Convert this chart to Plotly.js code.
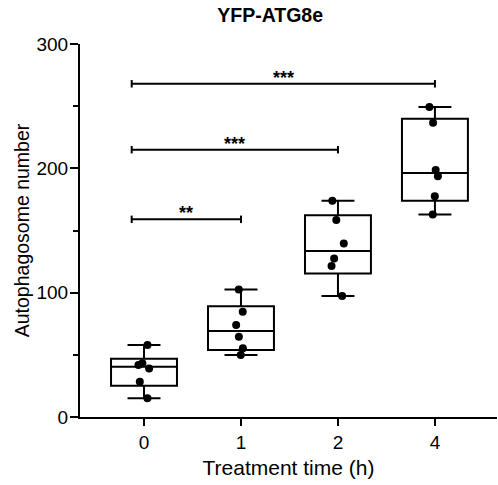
<!DOCTYPE html>
<html>
<head>
<meta charset="utf-8">
<script src="https://cdn.plot.ly/plotly-3.0.1.min.js"></script>
<style>html,body{margin:0;padding:0;background:#fff;}#chart{width:498px;height:485px;}</style>
</head>
<body>
<div id="chart"></div>
<script>
// Data
const categories = ['0', '1', '2', '4'];
const t0 = [57.9, 43.2, 41.8, 39.1, 28.4, 15.0];
const t1 = [102.6, 84.7, 74.0, 64.5, 55.2, 49.8];
const t2 = [173.9, 158.4, 139.6, 127.5, 121.4, 97.3];
const t4 = [249.4, 236.6, 198.6, 193.7, 177.6, 162.9];
const groups = [t0, t1, t2, t4];

// Significance annotations
const sigFrom = ['0', '0', '0'];
const sigTo = ['1', '2', '4'];
const sigLevel = [159, 215, 268];
const sigLabel = ['**', '***', '***'];

const FONT = '"Liberation Sans", Arial, Helvetica, sans-serif';

// Percentile (n+1)p method, as in Prism
function pct(arr, p) {
  const s = arr.slice().sort((a, b) => a - b);
  const n = s.length;
  let pos = (n + 1) * p;
  if (pos < 1) pos = 1;
  if (pos > n) pos = n;
  const lo = Math.floor(pos), hi = Math.ceil(pos);
  const f = pos - lo;
  return s[lo - 1] + f * (s[hi - 1] - s[lo - 1]);
}

const boxTrace = {
  type: 'box',
  x: categories,
  q1: groups.map(g => pct(g, 0.25)),
  median: groups.map(g => pct(g, 0.5)),
  q3: groups.map(g => pct(g, 0.75)),
  lowerfence: groups.map(g => Math.min(...g)),
  upperfence: groups.map(g => Math.max(...g)),
  width: 0.68,
  whiskerwidth: 0.5,
  boxpoints: false,
  line: {color: '#000', width: 2},
  fillcolor: 'rgba(255,255,255,0)',
  showlegend: false,
  hoverinfo: 'skip'
};

const ptsX = [], ptsY = [];
groups.forEach((g, i) => g.forEach(v => { ptsX.push(categories[i]); ptsY.push(v); }));

const pointTrace = {
  type: 'box',
  x: ptsX,
  y: ptsY,
  width: 0.68,
  boxpoints: 'all',
  jitter: 0.2,
  pointpos: 0,
  marker: {color: '#000', size: 8},
  line: {color: 'rgba(0,0,0,0)', width: 0},
  fillcolor: 'rgba(0,0,0,0)',
  showlegend: false
};

const catIdx = c => categories.indexOf(c);
const shapes = [];
const annotations = [];
sigLevel.forEach((lvl, i) => {
  const x0 = catIdx(sigFrom[i]) - 0.127;
  const x1 = catIdx(sigTo[i]);
  const ln = {color: '#000', width: 2};
  shapes.push({type: 'line', xref: 'x', yref: 'y', x0: x0, x1: x1, y0: lvl, y1: lvl, line: ln});
  shapes.push({type: 'line', xref: 'x', yref: 'y', x0: x0, x1: x0, y0: lvl - 3, y1: lvl + 3, line: ln});
  shapes.push({type: 'line', xref: 'x', yref: 'y', x0: x1, x1: x1, y0: lvl - 3, y1: lvl + 3, line: ln});
  annotations.push({
    xref: 'x', yref: 'y', x: (x0 + x1) / 2, y: lvl, text: '<b>' + sigLabel[i] + '</b>',
    showarrow: false, yanchor: 'bottom', yshift: -6,
    font: {family: FONT, size: 18, color: '#000'}
  });
});

const layout = {
  width: 498, height: 485,
  margin: {l: 80, r: 1, t: 44, b: 68},
  paper_bgcolor: '#fff', plot_bgcolor: '#fff',
  font: {family: FONT, color: '#000'},
  boxmode: 'overlay',
  showlegend: false,
  title: {
    text: '<b>YFP-ATG8e</b>',
    font: {family: FONT, size: 19.5, color: '#000'},
    xref: 'paper', x: 0.456, xanchor: 'center',
    yref: 'container', y: 0.968, yanchor: 'middle'
  },
  xaxis: {
    type: 'category',
    categoryorder: 'array', categoryarray: categories,
    range: [-0.66, 3.64],
    showline: true, linecolor: '#000', linewidth: 2,
    ticks: 'outside', ticklen: 7, tickwidth: 2, tickcolor: '#000',
    showgrid: false, zeroline: false,
    tickfont: {family: FONT, size: 19, color: '#000'},
    title: {text: 'Treatment time (h)', font: {family: FONT, size: 21, color: '#000'}, standoff: 9}
  },
  yaxis: {
    range: [0, 300],
    dtick: 100, tick0: 0,
    showline: true, linecolor: '#000', linewidth: 2,
    ticks: 'outside', ticklen: 8, tickwidth: 2, tickcolor: '#000',
    ticklabelstandoff: -2,
    minor: {dtick: 50, ticks: 'outside', ticklen: 5, tickwidth: 2, tickcolor: '#000', showgrid: false},
    showgrid: false, zeroline: false,
    tickfont: {family: FONT, size: 19, color: '#000'},
    title: {text: 'Autophagosome number', font: {family: FONT, size: 19.5, color: '#000'}, standoff: 2}
  },
  shapes: shapes,
  annotations: annotations
};

Plotly.newPlot('chart', [boxTrace, pointTrace], layout, {displayModeBar: false, staticPlot: true});
</script>
</body>
</html>
